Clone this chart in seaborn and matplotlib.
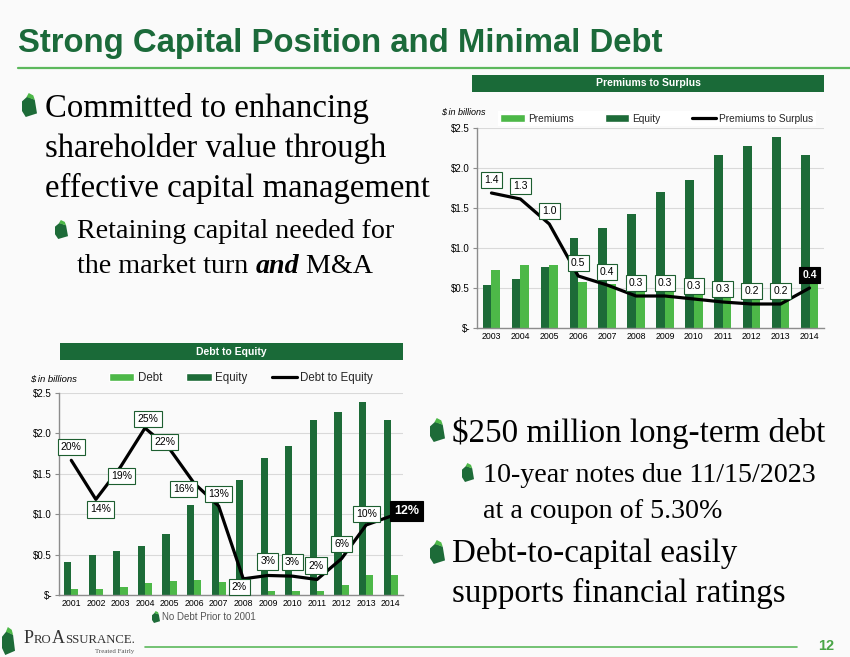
import matplotlib
matplotlib.use("Agg")
import matplotlib.pyplot as plt
import seaborn as sns
import pandas as pd
import numpy as np
from matplotlib.patches import Rectangle, Polygon, Patch
from matplotlib.lines import Line2D

# ---------------- data ----------------
ps_years = ["2003", "2004", "2005", "2006", "2007", "2008", "2009", "2010",
            "2011", "2012", "2013", "2014"]
ps_premiums = [0.73, 0.79, 0.79, 0.58, 0.55, 0.47, 0.53, 0.53, 0.55, 0.53, 0.56, 0.76]
ps_equity = [0.54, 0.61, 0.76, 1.12, 1.25, 1.42, 1.70, 1.85, 2.16, 2.27, 2.39, 2.16]
ps_ratio = [1.35, 1.29, 1.04, 0.52, 0.43, 0.32, 0.32, 0.29, 0.26, 0.24, 0.24, 0.40]
ps_ratio_labels = ["1.4", "1.3", "1.0", "0.5", "0.4", "0.3", "0.3", "0.3", "0.3",
                   "0.2", "0.2", "0.4"]

de_years = ["2001", "2002", "2003", "2004", "2005", "2006", "2007", "2008",
            "2009", "2010", "2011", "2012", "2013", "2014"]
de_debt = [0.08, 0.07, 0.10, 0.15, 0.17, 0.18, 0.16, 0.03, 0.05, 0.05, 0.05, 0.12, 0.25, 0.25]
de_equity = [0.41, 0.50, 0.54, 0.61, 0.76, 1.12, 1.25, 1.42, 1.69, 1.85, 2.16, 2.26, 2.39, 2.16]
de_ratio = [0.200, 0.142, 0.190, 0.248, 0.217, 0.166, 0.132, 0.024, 0.029, 0.028,
            0.023, 0.054, 0.104, 0.117]
de_ratio_labels = ["20%", "14%", "19%", "25%", "22%", "16%", "13%", "2%", "3%", "3%",
                   "2%", "6%", "10%", "12%"]

y_tick_values = [0, 0.5, 1.0, 1.5, 2.0, 2.5]
y_tick_labels = ["$-", "$0.5", "$1.0", "$1.5", "$2.0", "$2.5"]

# ---------------- style ----------------
W, H = 850, 657
DARK = "#1d6b38"
LIGHT = "#4db848"
TITLE_GREEN = "#1b6a3a"
BAR_HEADER = "#1a6a38"
LINE_GREEN = "#5cb85c"
BG = "#fafafa"

sns.set_theme(style="white")
plt.rcParams["font.family"] = ["Liberation Sans", "DejaVu Sans"]

fig = plt.figure(figsize=(W / 100, H / 100), dpi=100)
fig.patch.set_facecolor(BG)


def fx(px):
    return px / W


def fy(py):
    return 1 - py / H


def frect(x0, y0, x1, y1):
    return [fx(x0), fy(y1), fx(x1) - fx(x0), (y1 - y0) / H]


def leaf(x, y, w, h):
    body = [(0.0, 0.35), (0.35, 0.15), (0.85, 0.28), (1.0, 0.85), (0.25, 1.0), (0.0, 0.75)]
    tip = [(0.3, 0.17), (0.45, 0.0), (0.75, 0.1), (0.85, 0.28), (0.55, 0.22)]
    for pts, col in ((body, DARK), (tip, LIGHT)):
        xy = [(fx(x + px * w), fy(y + py * h)) for px, py in pts]
        fig.patches.append(Polygon(xy, closed=True, transform=fig.transFigure,
                                   facecolor=col, edgecolor="none"))


renderer = fig.canvas.get_renderer()


def text_runs(x, y, parts, **common):
    cur = fx(x)
    for s, props in parts:
        kw = dict(common)
        kw.update(props)
        t = fig.text(cur, fy(y), s, va="baseline", ha="left", **kw)
        bb = t.get_window_extent(renderer=renderer)
        cur = bb.x1 / W
    return cur


# ---------------- title ----------------
fig.text(fx(18), fy(52), "Strong Capital Position and Minimal Debt", fontsize=23.7,
         fontweight="bold", color=TITLE_GREEN, va="baseline", ha="left")
fig.add_artist(Line2D([fx(18), 1.0], [fy(68), fy(68)], color=LINE_GREEN, lw=1.6,
                      transform=fig.transFigure))

# ---------------- bullet text ----------------
SERIF = ["Liberation Serif", "DejaVu Serif"]
MAIN_FS = 23.6
SUB_FS = 20.2
leaf(22, 93, 15, 24)
for ln, yy in (("Committed to enhancing", 117), ("shareholder value through", 157),
               ("effective capital management", 197)):
    fig.text(fx(45), fy(yy), ln, fontsize=MAIN_FS, family=SERIF, color="black",
             va="baseline", ha="left")
leaf(55, 220, 13, 19)
fig.text(fx(77), fy(238), "Retaining capital needed for", fontsize=SUB_FS, family=SERIF,
         color="black", va="baseline", ha="left")
text_runs(77, 273, [("the market turn ", {}),
                    ("and", {"fontweight": "bold", "style": "italic"}),
                    (" M&A", {})], fontsize=SUB_FS, family=SERIF, color="black")

leaf(430, 418, 15, 24)
fig.text(fx(452), fy(442), "$250 million long-term debt", fontsize=23.8, family=SERIF,
         color="black", va="baseline", ha="left")
leaf(462, 463, 12, 19)
fig.text(fx(483), fy(482), "10-year notes due 11/15/2023", fontsize=SUB_FS, family=SERIF,
         color="black", va="baseline", ha="left")
fig.text(fx(483), fy(518), "at a coupon of 5.30%", fontsize=SUB_FS, family=SERIF,
         color="black", va="baseline", ha="left")
leaf(430, 540, 15, 24)
fig.text(fx(452), fy(562), "Debt-to-capital easily", fontsize=23.8, family=SERIF,
         color="black", va="baseline", ha="left")
fig.text(fx(452), fy(602), "supports financial ratings", fontsize=23.8, family=SERIF,
         color="black", va="baseline", ha="left")


# ---------------- charts ----------------
def draw_chart(rect, years, light_vals, dark_vals, light_name, ratio, labels,
               ratio_max, offsets_px, width, label_fs, last_fs):
    n = len(years)
    ax = fig.add_axes(rect)
    df = pd.DataFrame({
        "Year": years + years,
        "Value": dark_vals + light_vals,
        "Series": ["Equity"] * n + [light_name] * n,
    })
    sns.barplot(data=df, x="Year", y="Value", hue="Series", order=years,
                hue_order=["Equity", light_name], palette=[DARK, LIGHT],
                width=width, saturation=1, linewidth=0, edgecolor="none",
                legend=False, ax=ax)
    ax.set_facecolor("none")
    ax.set_xlim(-0.5, n - 0.5)
    ax.set_ylim(0, 2.5)
    ax.set_yticks(y_tick_values)
    ax.set_yticklabels(y_tick_labels)
    ax.set_xlabel("")
    ax.set_ylabel("")
    ax.yaxis.grid(True, color="#d9d9d9", lw=0.8)
    ax.set_axisbelow(True)
    for s in ("top", "right"):
        ax.spines[s].set_visible(False)
    for s in ("left", "bottom"):
        ax.spines[s].set_color("#8c8c8c")
        ax.spines[s].set_linewidth(1.0)
    ax.tick_params(axis="x", which="major", length=0, labelsize=6.3, pad=3,
                   colors="black")
    ax.set_xticks(np.arange(-0.5, n, 1.0), minor=True)
    ax.tick_params(axis="x", which="minor", length=4, color="#8c8c8c", width=0.8)
    ax.tick_params(axis="y", length=3, color="#8c8c8c", width=0.8, labelsize=7,
                   pad=2, colors="black")
    for lab in ax.get_yticklabels():
        lab.set_color("black")

    ax2 = ax.twinx()
    ax2.set_ylim(0, ratio_max)
    ax2.axis("off")
    xs = list(range(n))
    ax2.plot(xs, ratio, color="black", lw=2.3, solid_joinstyle="round", zorder=3)
    for i, (v, lab) in enumerate(zip(ratio, labels)):
        dx, dy = offsets_px[i]
        last = i == n - 1
        ax2.annotate(lab, (i, v), xytext=(dx * 0.72, dy * 0.72),
                     textcoords="offset points", ha="center", va="center",
                     fontsize=last_fs if last else label_fs,
                     color="white" if last else "black",
                     fontweight="bold" if last else "normal",
                     bbox=dict(boxstyle="square,pad=0.3",
                               facecolor="black" if last else "white",
                               edgecolor="black" if last else "#1d5e30", lw=0.8),
                     zorder=5)
    return ax


# Top chart: Premiums to Surplus
fig.patches.append(Rectangle((fx(472), fy(92)), fx(824) - fx(472), 17 / H,
                             transform=fig.transFigure, facecolor=BAR_HEADER,
                             edgecolor="none"))
fig.text(fx(648), fy(83.5), "Premiums to Surplus", color="white", fontsize=7.5,
         fontweight="bold", ha="center", va="center")
ps_offsets = [(0, 13)] * len(ps_years)
draw_chart(frect(477, 128, 824, 328), ps_years, ps_premiums, ps_equity, "Premiums",
           ps_ratio, ps_ratio_labels, 2.0, ps_offsets, 0.6, 7.5, 7.5)
fig.text(fx(441), fy(112), "$ in billions", fontsize=6.5, style="italic",
         ha="left", va="center", color="black")
fig.legend(handles=[Patch(facecolor=LIGHT), Patch(facecolor=DARK),
                    Line2D([0], [0], color="black", lw=2.3)],
           labels=["Premiums", "Equity", "Premiums to Surplus"],
           loc="center", bbox_to_anchor=(fx(657), fy(118.5)), ncol=3, fontsize=7.3,
           frameon=True, facecolor="white", edgecolor="none", fancybox=False,
           framealpha=1, handlelength=2.4, handleheight=0.75, handletextpad=0.3,
           columnspacing=3.1, borderpad=0.25, borderaxespad=0)

# Bottom chart: Debt to Equity
fig.patches.append(Rectangle((fx(60), fy(360)), fx(403) - fx(60), 17 / H,
                             transform=fig.transFigure, facecolor=BAR_HEADER,
                             edgecolor="none"))
fig.text(fx(231), fy(351.5), "Debt to Equity", color="white", fontsize=7.5,
         fontweight="bold", ha="center", va="center")
de_offsets = [(0, 13), (5, -10), (1, -9), (3, 9), (-5, 7), (-11, -6), (0, 12),
              (-4, -8), (0, 14), (0, 14), (-1, 14), (0, 15), (0, 11), (16, 5)]
draw_chart(frect(59, 393, 403, 595), de_years, de_debt, de_equity, "Debt",
           de_ratio, de_ratio_labels, 0.30, de_offsets, 0.58, 7.5, 9.0)
fig.text(fx(30), fy(379), "$ in billions", fontsize=6.8, style="italic",
         ha="left", va="center", color="black")
fig.legend(handles=[Patch(facecolor=LIGHT), Patch(facecolor=DARK),
                    Line2D([0], [0], color="black", lw=2.3)],
           labels=["Debt", "Equity", "Debt to Equity"],
           loc="center", bbox_to_anchor=(fx(241), fy(378)), ncol=3, fontsize=8.3,
           frameon=False, handlelength=2.2, handleheight=0.7, handletextpad=0.3,
           columnspacing=2.1, borderpad=0.2, borderaxespad=0)

leaf(152, 611, 8, 12)
fig.text(fx(162), fy(617), "No Debt Prior to 2001", fontsize=7, color="#555555",
         ha="left", va="center")

# ---------------- footer ----------------
leaf(2, 627, 13, 28)
text_runs(24, 643, [("P", {"fontsize": 13}), ("RO", {"fontsize": 9.2}),
                    ("A", {"fontsize": 13}), ("SSURANCE.", {"fontsize": 9.2})],
          family=SERIF, color="#333333")
fig.text(fx(95), fy(653), "Treated Fairly", fontsize=5, family=SERIF,
         color="#555555", ha="left", va="baseline")
fig.add_artist(Line2D([fx(145), fx(797)], [fy(647), fy(647)], color=LINE_GREEN, lw=1.2,
                      transform=fig.transFigure))
fig.text(fx(826), fy(646), "12", fontsize=10.5, fontweight="bold", color="#4aa547",
         ha="center", va="center")

fig.savefig("out.png", dpi=100, facecolor=fig.get_facecolor())
